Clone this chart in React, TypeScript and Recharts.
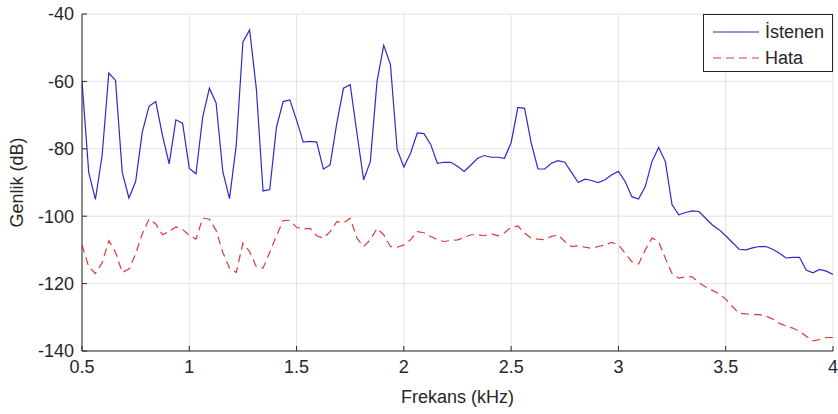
import React from 'react';
import { LineChart, Line, XAxis, YAxis, CartesianGrid, Legend } from 'recharts';

// Frequency grid: 0.5 kHz to 4 kHz in steps of 1/32 kHz (113 samples)
const FREQ_START = 0.5;
const FREQ_STEP = 1 / 32;

const istenen = [
  -60, -87, -95, -82, -57.5, -59.7, -87, -94.6, -89.7, -75, -67.4, -66, -76, -84.5, -71.4, -72.4, -85.8,
  -87.4, -70.6, -62, -66.4, -86.8, -94.8, -79, -48.3, -44.7, -62.2, -92.5, -92.1, -73.6, -66, -65.5, -71.5,
  -78, -77.8, -78, -86, -84.8, -72.4, -62, -61, -75.3, -89.2, -83.8, -60, -49.3, -55, -80.2, -85.4,
  -81.3, -75.3, -75.5, -78.7, -84.3, -84, -84, -85.2, -86.7, -84.8, -82.8, -82, -82.5, -82.5, -82.8, -78.2,
  -67.7, -68, -78.3, -86, -86, -84.3, -83.5, -84, -87, -90, -89, -89.4, -90, -89.2, -87.7, -86.7,
  -89.7, -94.2, -94.9, -91.2, -83.8, -79.6, -83.8, -96.6, -99.6, -98.9, -98.4, -98.6, -100.6, -102.6, -104, -105.8,
  -107.8, -109.8, -110, -109.4, -109, -109, -109.8, -111, -112.4, -112.2, -112.2, -116, -116.8, -115.8, -116.3, -117.3,
];

const hata = [
  -108.5, -115, -117, -113.8, -107.3, -110.7, -116.7, -115.7, -111.2, -105.2, -100.8, -102.3, -105.5, -104.5, -103.2, -103.9, -105.7,
  -106.8, -100.6, -100.9, -104.2, -110.7, -115.4, -116.7, -108, -110.5, -115, -115.4, -110.7, -105.8, -101.3, -101.2, -103.3,
  -103.8, -103.6, -105.8, -106.5, -104.6, -101.6, -102, -100.6, -106.5, -109, -107, -103.6, -105.5, -109, -109.2, -108.5,
  -107, -104.6, -104.9, -106, -107, -107.5, -107.2, -107, -106.3, -105.5, -105.5, -105.8, -105.2, -105.8, -104.9, -103.3,
  -102.9, -105, -106.5, -106.8, -107, -106, -105.6, -107.5, -109, -108.8, -109.2, -109.5, -109, -108.5, -107.8, -108.5,
  -111, -113.5, -114.2, -110, -106.5, -107.5, -112.5, -117, -118.4, -118, -118, -119.7, -121, -122, -123, -124.6,
  -126.8, -128.8, -129, -129.2, -129.2, -129.6, -130.5, -131.8, -132.6, -133.2, -134.2, -135.6, -137, -136.6, -136, -136,
];

const xTicks = [0.5, 1, 1.5, 2, 2.5, 3, 3.5, 4];
const yTicks = [-140, -120, -100, -80, -60, -40];
const seriesNames = { istenen: 'İstenen', hata: 'Hata' };

const data = istenen.map((v, i) => ({
  f: FREQ_START + i * FREQ_STEP,
  istenen: v,
  hata: hata[i],
}));

const FONT = '"Liberation Sans", Arial, Helvetica, sans-serif';
const INK = '#262626';
const BLUE = '#2b2bc8';
const RED = '#e03a3a';

const LegendBox = () => (
  <div
    style={{
      position: 'relative',
      boxSizing: 'border-box',
      width: 130,
      height: 58,
      border: `1px solid ${INK}`,
      background: '#fff',
      fontFamily: FONT,
      fontSize: 18,
      color: INK,
    }}
  >
    {[
      { name: seriesNames.istenen, color: BLUE, dash: undefined, cy: 17 },
      { name: seriesNames.hata, color: RED, dash: '8 5', cy: 43 },
    ].map((r) => (
      <div key={r.name} style={{ position: 'absolute', left: 0, top: r.cy - 12, height: 24, width: 128 }}>
        <svg width={60} height={24} style={{ position: 'absolute', left: 0, top: 0 }}>
          <line x1={9} x2={55} y1={12} y2={12} stroke={r.color} strokeWidth={1.2} strokeDasharray={r.dash} />
        </svg>
        <span style={{ position: 'absolute', left: 61, top: 1, lineHeight: '22px', whiteSpace: 'nowrap' }}>{r.name}</span>
      </div>
    ))}
  </div>
);

export default function App() {
  const tickStyle = { fontFamily: FONT, fontSize: 18, fill: INK };
  return (
    <div style={{ position: 'absolute', left: 0, top: 0, background: '#fff' }}>
      <LineChart width={838} height={414} data={data} margin={{ top: 14, right: 5, left: 0, bottom: 0 }}>
        <CartesianGrid stroke="#e3e3e3" strokeWidth={1} />
        <XAxis
          dataKey="f"
          type="number"
          domain={[0.5, 4]}
          ticks={xTicks}
          allowDataOverflow
          height={63}
          axisLine={{ stroke: INK }}
          tickLine={{ stroke: INK }}
          tickSize={-5}
          tickMargin={14}
          tick={tickStyle}
          label={{ value: 'Frekans (kHz)', position: 'insideBottom', offset: 11, style: { fontFamily: FONT, fontSize: 18, fill: INK } }}
        />
        <XAxis
          xAxisId="top"
          orientation="top"
          dataKey="f"
          type="number"
          domain={[0.5, 4]}
          ticks={xTicks}
          allowDataOverflow
          height={0}
          axisLine={{ stroke: INK }}
          tickLine={{ stroke: INK }}
          tickSize={-5}
          tick={false}
        />
        <YAxis
          type="number"
          domain={[-140, -40]}
          ticks={yTicks}
          allowDataOverflow
          width={82}
          axisLine={{ stroke: INK }}
          tickLine={{ stroke: INK }}
          tickSize={-5}
          tickMargin={13}
          tick={tickStyle}
          label={{ value: 'Genlik (dB)', angle: -90, position: 'insideLeft', offset: 17, style: { textAnchor: 'middle', fontFamily: FONT, fontSize: 18, fill: INK } }}
        />
        <YAxis
          yAxisId="right"
          orientation="right"
          type="number"
          domain={[-140, -40]}
          ticks={yTicks}
          allowDataOverflow
          width={0}
          axisLine={{ stroke: INK }}
          tickLine={{ stroke: INK }}
          tickSize={-5}
          tick={false}
        />
        <Legend
          layout="horizontal"
          verticalAlign="middle"
          align="center"
          content={() => <LegendBox />}
          wrapperStyle={{ position: 'absolute', top: 14, left: 703, width: 130, height: 58 }}
        />
        <Line
          type="linear"
          dataKey="istenen"
          name={seriesNames.istenen}
          stroke={BLUE}
          strokeWidth={1.2}
          dot={false}
          activeDot={false}
          isAnimationActive={false}
        />
        <Line
          type="linear"
          dataKey="hata"
          name={seriesNames.hata}
          stroke={RED}
          strokeWidth={1.2}
          strokeDasharray="8 5"
          dot={false}
          activeDot={false}
          isAnimationActive={false}
        />
      </LineChart>
    </div>
  );
}
